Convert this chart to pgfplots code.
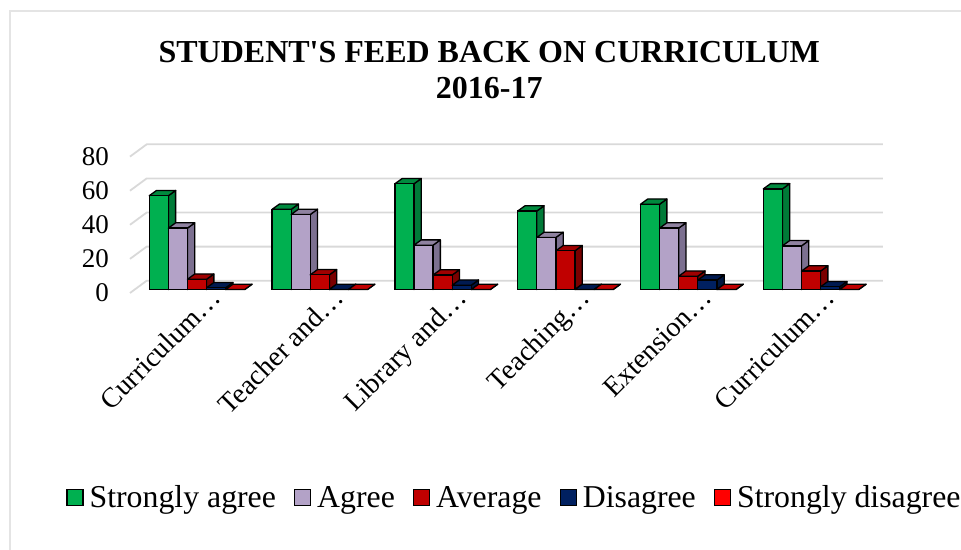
\documentclass[border=0pt]{standalone}
\usepackage{pgfplots}
\usepackage{pgfplotstable}
\usepackage{fontspec}
\setmainfont{Liberation Serif}[Ligatures=TeXOff]
\pgfplotsset{compat=1.18}
\definecolor{sa}{HTML}{00B050}\definecolor{satop}{HTML}{008A3E}\definecolor{saside}{HTML}{007A38}
\definecolor{ag}{HTML}{B3A2C7}\definecolor{agtop}{HTML}{8F82A0}\definecolor{agside}{HTML}{7C7090}
\definecolor{av}{HTML}{C00000}\definecolor{avtop}{HTML}{A00000}\definecolor{avside}{HTML}{7A0000}
\definecolor{di}{HTML}{002060}\definecolor{ditop}{HTML}{001A50}\definecolor{diside}{HTML}{00163F}
\definecolor{sd}{HTML}{FF0000}\definecolor{sdtop}{HTML}{C00000}\definecolor{sdside}{HTML}{900000}
\definecolor{gridc}{HTML}{D9D9D9}
\pgfplotstableread{
x v
0 55
1 47
2 62
3 46
4 50
5 59
}\tsa
\pgfplotstableread{
x v
0 36
1 44
2 26
3 30.5
4 36
5 25.6
}\tag
\pgfplotstableread{
x v
0 6
1 8.6
2 8.5
3 22.7
4 7.8
5 10.8
}\tav
\pgfplotstableread{
x v
0 1
1 0
2 2.5
3 0
4 5.5
5 1.6
}\tdi
\pgfplotstableread{
x v
0 0
1 0
2 0
3 0
4 0
5 0
}\tsd
\newcommand\threed[5]{%
  \pgfplotstablegetelem{#1}{v}\of#2%
  \let\val\pgfplotsretval
  \pgfmathsetmacro\xb{#1+#3*0.15554+0.07777}%
  \pgfmathsetmacro\xc{\xb+0.0594}%
  \pgfmathsetmacro\xa{\xb-0.15554}%
  \pgfmathsetmacro\xd{\xa+0.0594}%
  \pgfmathsetmacro\yt{\val+3.1}%
  \edef\cmd{%
    \noexpand\addplot[forget plot,draw=black,line width=1.3bp,line join=round,fill=#5] coordinates {(\xb,0)(\xc,3.1)(\xc,\yt)(\xb,\val)} --cycle;
    \noexpand\addplot[forget plot,draw=black,line width=1.3bp,line join=round,fill=#4] coordinates {(\xa,\val)(\xb,\val)(\xc,\yt)(\xd,\yt)} --cycle;
  }\cmd
}
\pgfplotsset{myleg/.style={legend image code/.code={\draw[##1,draw=black,line width=1.3bp] (0bp,-8bp) rectangle (16bp,8bp);}},
  mybar/.style={ybar,bar width=19.1bp,draw=black,line width=1.3bp,myleg}}
\begin{document}
\begin{tikzpicture}[x=1bp,y=1bp]
\draw[gridc!70,line width=2bp] (9.5bp,0bp) -- (9.5bp,539bp) -- (961bp,539bp);
\begin{axis}[
  at={(130bp,253.68bp)},anchor=south west,
  scale only axis,width=753bp,height=153.45bp,
  xmin=-0.5456,xmax=5.586,ymin=-4,ymax=86,
  clip=false,
  axis line style={draw=none},
  major tick length=0pt,
  ytick={0,20,40,60,80},
  xtick={0,1,2,3,4,5},
  xticklabels={Curriculum…,Teacher and…,Library and…,Teaching…,Extension…,Curriculum…},
  /pgf/number format/assume math mode=true,
  yticklabel style={font=\fontsize{27bp}{30bp}\selectfont,inner sep=0pt,anchor=east,xshift=-21bp,yshift=-3.5bp},
  xticklabel style={font=\fontsize{28bp}{30bp}\selectfont,rotate=45,anchor=north east,inner sep=0pt,xshift=15.5bp,yshift=-1bp},
  title={STUDENT'S FEED BACK ON CURRICULUM\\2016-17},
  title style={at={(axis cs:2.38,86)},anchor=south,yshift=35bp,align=center,font=\fontsize{32bp}{36bp}\selectfont\bfseries},
  legend columns=5,
  legend style={draw=none,fill=none,at={(axis cs:-1.0656,-122)},anchor=west,font=\fontsize{31.8bp}{36bp}\selectfont,inner sep=0pt,
    /tikz/every even column/.append style={column sep=16bp},
    /tikz/every odd column/.append style={column sep=4bp}},
]
% walls
\addplot[forget plot,gridc,line width=1.8bp] coordinates {(-0.5456,-2.05)(-0.4096,5.16)(5.584,5.16)};
\addplot[forget plot,gridc,line width=1.8bp] coordinates {(-0.5456,17.95)(-0.4096,25.16)(5.584,25.16)};
\addplot[forget plot,gridc,line width=1.8bp] coordinates {(-0.5456,37.95)(-0.4096,45.16)(5.584,45.16)};
\addplot[forget plot,gridc,line width=1.8bp] coordinates {(-0.5456,57.95)(-0.4096,65.16)(5.584,65.16)};
\addplot[forget plot,gridc,line width=1.8bp] coordinates {(-0.5456,77.95)(-0.4096,85.16)(5.584,85.16)};
% series
\pgfplotsinvokeforeach{0,...,5}{\threed{#1}{\tsa}{-2}{satop}{saside}}
\addplot[mybar,bar shift=-38.2bp,fill=sa] table[x=x,y=v]{\tsa};
\addlegendentry{Strongly agree}
\pgfplotsinvokeforeach{0,...,5}{\threed{#1}{\tag}{-1}{agtop}{agside}}
\addplot[mybar,bar shift=-19.1bp,fill=ag] table[x=x,y=v]{\tag};
\addlegendentry{Agree}
\pgfplotsinvokeforeach{0,...,5}{\threed{#1}{\tav}{0}{avtop}{avside}}
\addplot[mybar,bar shift=0bp,fill=av] table[x=x,y=v]{\tav};
\addlegendentry{Average}
\pgfplotsinvokeforeach{0,...,5}{\threed{#1}{\tdi}{1}{ditop}{diside}}
\addplot[mybar,bar shift=19.1bp,fill=di] table[x=x,y=v]{\tdi};
\addlegendentry{Disagree}
\pgfplotsinvokeforeach{0,...,5}{\threed{#1}{\tsd}{2}{sdtop}{sdside}}
\addplot[mybar,bar shift=38.2bp,fill=sd] table[x=x,y=v]{\tsd};
\addlegendentry{Strongly disagree}
\end{axis}
\pgfresetboundingbox
\path[use as bounding box] (0bp,0bp) rectangle (961bp,550bp);
\end{tikzpicture}
\end{document}
